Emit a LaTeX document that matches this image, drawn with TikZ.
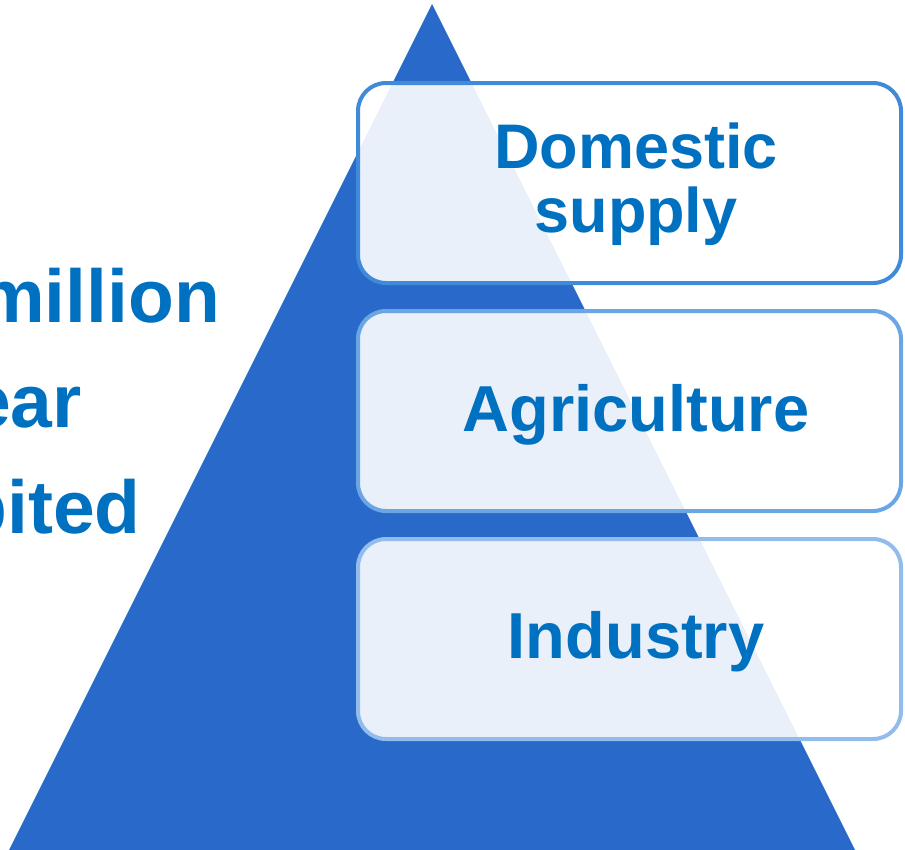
\documentclass[tikz,border=0pt]{standalone}
\usepackage{fontspec}
\setmainfont{Liberation Sans}
\definecolor{pyramid}{RGB}{41,105,201}
\definecolor{labelblue}{RGB}{0,112,192}
\definecolor{edgeA}{RGB}{64,138,218}
\definecolor{edgeB}{RGB}{106,166,228}
\definecolor{edgeC}{RGB}{146,188,235}
\begin{document}
\begin{tikzpicture}[x=1pt,y=-1pt,
  panel/.style={draw=#1,line width=4pt,rounded corners=28pt,fill=white,fill opacity=0.9,
    minimum width=543pt,minimum height=200pt,inner sep=0pt},
  paneltext/.style={text=labelblue,font=\fontsize{#1}{64}\selectfont\bfseries,inner sep=0pt,align=center},
  sidetext/.style={text=labelblue,font=\fontsize{75}{80}\selectfont\bfseries,inner sep=0pt,anchor=base east}]
\useasboundingbox (0,0) rectangle (905,849);
\clip (0,0) rectangle (905,849);
% Pyramid
\fill[pyramid] (432,4) -- (856,852) -- (8,852) -- cycle;
% Cut-off text on the left
\node[sidetext] (million) at (220,322) {million};
\node[sidetext] (ear) at (82,427) {ear};
\node[sidetext] (bited) at (141,533) {bited};
% Panels
\node[panel=edgeA] (dom) at (629.5,183) {};
\node[panel=edgeB] (agr) at (629.5,411) {};
\node[panel=edgeC] (ind) at (629.5,639) {};
% Panel labels
\node[paneltext=63] (domtext) at ([xshift=6.5pt,yshift=-1pt]dom.center) {Domestic\\supply};
\node[paneltext=65,anchor=base] (agrtext) at (636,431) {Agriculture};
\node[paneltext=65,anchor=base] (indtext) at (636,658) {Industry};
\end{tikzpicture}
\end{document}
